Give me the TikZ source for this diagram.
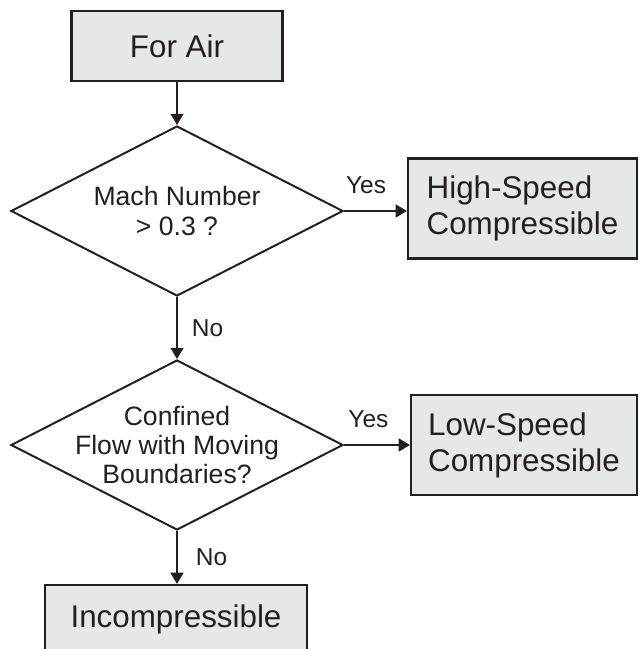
\documentclass[tikz,border=0pt]{standalone}
\usepackage{fontspec}
\setmainfont{Liberation Sans}
\usetikzlibrary{shapes.geometric,arrows.meta}
\definecolor{inkblack}{HTML}{231F20}
\definecolor{boxgray}{HTML}{E6E7E8}
\tikzset{
	flowbox/.style={draw=inkblack,fill=boxgray,line width=1.5pt,inner sep=0pt,text=inkblack,font=\fontsize{22.3}{25.5}\selectfont},
	decision/.style={diamond,aspect=1.95,draw=inkblack,line width=1.4pt,inner sep=-0.25cm,minimum width=8.3cm,minimum height=4.25cm,align=center,text=inkblack,font=\fontsize{18.9}{20.8}\selectfont},
	flowarrow/.style={-{Triangle[width=0.32cm,length=0.28cm]},line width=1.4pt,draw=inkblack},
	answer/.style={inner sep=0pt,text=inkblack,font=\fontsize{17.4}{20}\selectfont}
}
\begin{document}
\begin{tikzpicture}[x=0.025cm,y=-0.025cm]
		\useasboundingbox (0,0) rectangle (639,649);
		\clip (0,0) rectangle (639,649);
		\node[flowbox,minimum width=5.275cm,minimum height=1.75cm] (air) at (177,46) {For Air};
		\node[decision] (mach) at (177,211) {Mach Number\\> 0.3 ?};
		\node[flowbox,minimum width=5.725cm,minimum height=2.5cm,align=left] (high) at (522.5,208.5) {High-Speed\\Compressible};
		\node[decision] (conf) at (177,445) {Confined\\Flow with Moving\\Boundaries?};
		\node[flowbox,minimum width=5.65cm,minimum height=2.5cm,align=left] (low) at (524,445) {Low-Speed\\Compressible};
		\node[flowbox,minimum width=6.55cm,minimum height=1.7cm] (inc) at (176,619) {Incompressible};
		\draw[flowarrow] (air.south) -- (mach.north);
		\draw[flowarrow] (mach.east) -- node[answer,pos=0.35,above=0.4cm]{Yes} (mach.east -| high.west);
		\draw[flowarrow] (mach.south) -- node[answer,midway,right=0.35cm]{No} (conf.north);
		\draw[flowarrow] (conf.east) -- node[answer,pos=0.37,above=0.4cm]{Yes} (conf.east -| low.west);
		\draw[flowarrow] (conf.south) -- node[answer,midway,right=0.45cm]{No} (conf.south |- inc.north);
	\end{tikzpicture}
\end{document}
